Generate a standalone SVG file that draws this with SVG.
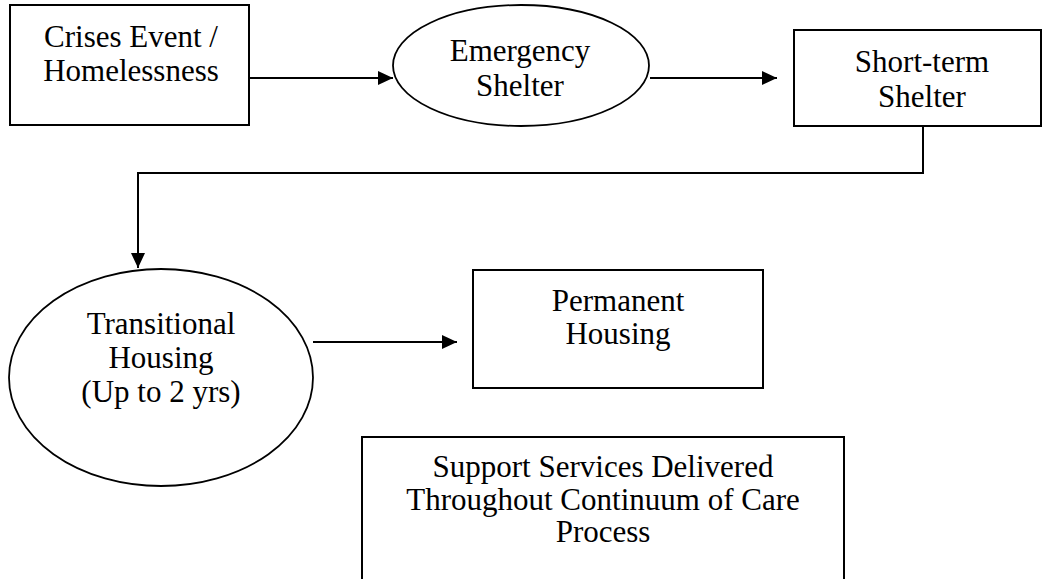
<svg xmlns="http://www.w3.org/2000/svg" width="1042" height="579" viewBox="0 0 1042 579">
<defs>
<style>
.shape{fill:#fff;stroke:#000;stroke-width:2}
.ell{fill:#fff;stroke:#000;stroke-width:1.8}
.conn{fill:none;stroke:#000;stroke-width:2}
text{font-family:"Liberation Serif","Times New Roman",serif;font-size:31px;fill:#000;text-anchor:middle}
</style>
<marker id="ah" markerWidth="16" markerHeight="14" refX="15" refY="7" orient="auto" markerUnits="userSpaceOnUse">
<path d="M0,0 L15,7 L0,14 Z" fill="#000"/>
</marker>
</defs>
<rect width="1042" height="579" fill="#fff"/>
<g id="connectors">
<line class="conn" x1="249" y1="78" x2="393" y2="78" marker-end="url(#ah)"/>
<line class="conn" x1="650" y1="78" x2="777" y2="78" marker-end="url(#ah)"/>
<polyline class="conn" points="923,126 923,173 138,173 138,268" marker-end="url(#ah)"/>
<line class="conn" x1="313" y1="342" x2="457" y2="342" marker-end="url(#ah)"/>
</g>
<g id="crises">
<rect class="shape" x="10" y="5" width="239" height="120"/>
<text x="131" y="47">Crises Event /</text>
<text x="131" y="81">Homelessness</text>
</g>
<g id="emergency">
<ellipse class="ell" cx="521" cy="65.5" rx="128" ry="60.5"/>
<text x="520" y="61">Emergency</text>
<text x="520" y="96">Shelter</text>
</g>
<g id="shortterm">
<rect class="shape" x="794" y="30" width="247" height="96"/>
<text x="922" y="72">Short-term</text>
<text x="922" y="107">Shelter</text>
</g>
<g id="transitional">
<ellipse class="ell" cx="161" cy="377.5" rx="152" ry="108.5"/>
<text x="161" y="334">Transitional</text>
<text x="161" y="368">Housing</text>
<text x="161" y="402">(Up to 2 yrs)</text>
</g>
<g id="permanent">
<rect class="shape" x="473" y="270" width="290" height="118"/>
<text x="618" y="311">Permanent</text>
<text x="618" y="344">Housing</text>
</g>
<g id="support">
<rect class="shape" x="362" y="437" width="482" height="170"/>
<text x="603" y="477">Support Services Delivered</text>
<text x="603" y="510">Throughout Continuum of Care</text>
<text x="603" y="542">Process</text>
</g>
</svg>
